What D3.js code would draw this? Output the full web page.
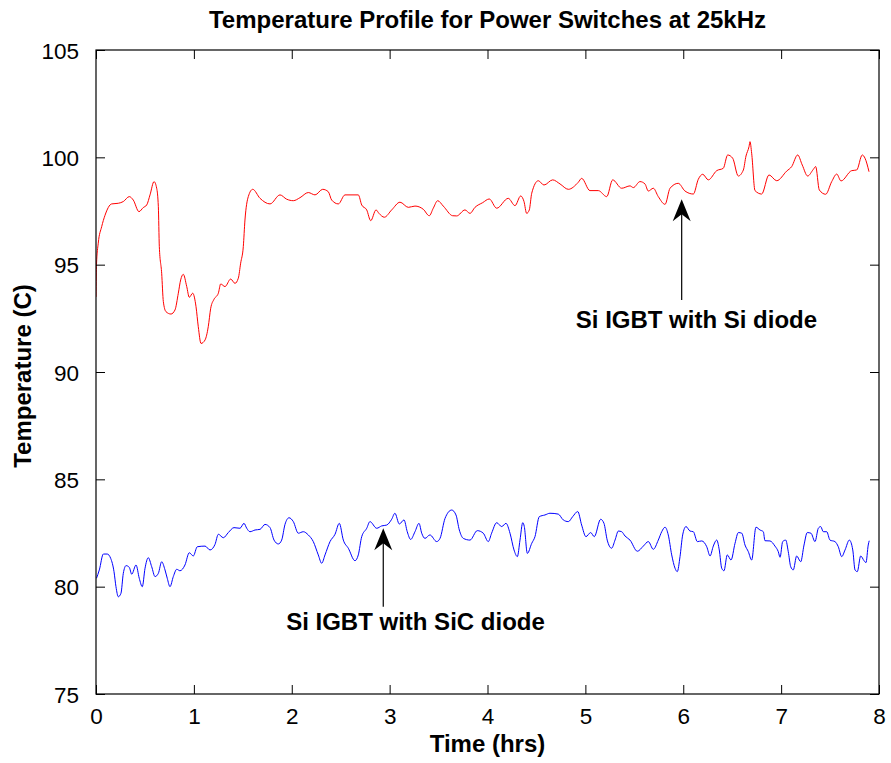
<!DOCTYPE html>
<html>
<head>
<meta charset="utf-8">
<script src="https://cdn.jsdelivr.net/npm/d3@7"></script>
<style>
  html, body { margin: 0; padding: 0; background: #fff; }
  svg { display: block; }
  text { font-family: "Liberation Sans", Arial, Helvetica, sans-serif; fill: #000; }
</style>
</head>
<body>
<svg id="chart" width="891" height="763"></svg>
<script>
// ---------------- DATA ----------------
const chartTitle = "Temperature Profile for Power Switches at 25kHz";
const xLabel = "Time (hrs)";
const yLabel = "Temperature (C)";
const xTicks = [0, 1, 2, 3, 4, 5, 6, 7, 8];
const yTicks = [75, 80, 85, 90, 95, 100, 105];

// Si IGBT with Si diode (red)
const siTime = [0.000,0.005,0.023,0.058,0.092,0.160,0.228,0.279,0.340,0.381,0.439,0.483,0.518,0.552,0.593,0.620,0.637,0.647,0.671,0.688,0.715,0.766,0.807,0.841,0.865,0.892,0.927,0.953,0.988,1.022,1.045,1.073,1.114,1.147,1.172,1.206,1.250,1.274,1.318,1.376,1.420,1.454,1.478,1.505,1.522,1.556,1.601,1.676,1.778,1.880,1.948,2.016,2.084,2.169,2.238,2.316,2.373,2.408,2.476,2.544,2.680,2.715,2.766,2.807,2.861,2.891,2.946,3.021,3.106,3.191,3.259,3.344,3.405,3.446,3.491,3.548,3.644,3.685,3.770,3.821,3.872,3.951,4.018,4.094,4.212,4.281,4.339,4.373,4.400,4.427,4.452,4.519,4.577,4.666,4.741,4.826,4.928,4.962,5.047,5.132,5.218,5.279,5.371,5.456,5.490,5.558,5.609,5.643,5.694,5.745,5.814,5.865,5.949,6.018,6.103,6.154,6.199,6.256,6.342,6.409,6.454,6.505,6.562,6.614,6.641,6.672,6.682,6.699,6.733,6.801,6.876,6.955,7.057,7.108,7.169,7.216,7.271,7.329,7.353,7.390,7.455,7.517,7.568,7.612,7.721,7.772,7.829,7.857,7.898];
const siTemp = [93.5,95.0,96.0,96.77,97.3,97.83,97.86,97.94,98.17,98.01,97.47,97.66,97.78,98.25,98.87,98.56,97.70,95.84,94.6,93.28,92.81,92.70,92.89,93.67,94.29,94.55,93.98,93.48,93.67,93.04,92.11,91.33,91.49,92.11,92.97,93.39,93.67,94.10,93.98,94.33,94.13,94.37,95.07,95.84,97.08,98.17,98.51,98.09,97.83,98.25,98.05,97.98,98.12,98.36,98.25,98.51,98.40,98.01,97.83,98.25,98.25,97.78,97.55,97.05,97.55,97.39,97.21,97.55,97.91,97.67,97.73,97.58,97.28,97.63,97.98,97.73,97.28,97.27,97.55,97.39,97.67,97.89,98.06,97.63,98.09,97.75,98.20,97.94,97.39,97.55,98.33,98.91,98.71,98.95,98.76,98.51,98.84,99.02,98.45,98.45,98.17,98.95,98.56,98.67,98.59,98.87,98.76,98.43,98.56,98.17,97.81,98.56,98.79,98.43,98.29,98.98,99.21,98.95,99.38,99.49,100.11,99.96,99.13,99.41,100.06,100.50,100.73,100.19,98.45,98.29,99.18,98.91,99.36,99.57,100.11,99.64,99.13,99.44,99.57,98.48,98.28,98.87,99.22,98.90,99.38,99.41,100.11,99.96,99.33];

// Si IGBT with SiC diode (blue)
const sicTime = [0.005,0.034,0.075,0.115,0.150,0.184,0.204,0.228,0.255,0.279,0.307,0.340,0.365,0.409,0.442,0.473,0.501,0.534,0.569,0.603,0.637,0.671,0.705,0.728,0.756,0.790,0.825,0.858,0.909,0.953,0.994,1.035,1.114,1.165,1.216,1.250,1.301,1.352,1.410,1.471,1.512,1.540,1.573,1.625,1.676,1.727,1.778,1.819,1.863,1.897,1.931,1.972,2.016,2.067,2.118,2.169,2.220,2.271,2.306,2.340,2.391,2.442,2.486,2.527,2.578,2.646,2.680,2.715,2.766,2.799,2.868,2.919,2.970,3.021,3.054,3.099,3.147,3.180,3.215,3.259,3.300,3.328,3.361,3.412,3.481,3.515,3.566,3.634,3.678,3.712,3.753,3.821,3.896,3.957,4.008,4.042,4.094,4.145,4.189,4.230,4.271,4.305,4.332,4.360,4.376,4.407,4.452,4.485,4.529,4.587,4.638,4.723,4.774,4.826,4.870,4.922,4.962,5.006,5.054,5.091,5.156,5.190,5.223,5.268,5.303,5.337,5.371,5.405,5.456,5.531,5.592,5.643,5.694,5.745,5.780,5.814,5.847,5.882,5.916,5.939,5.967,5.994,6.028,6.069,6.103,6.144,6.189,6.240,6.274,6.307,6.342,6.368,6.393,6.416,6.450,6.488,6.529,6.563,6.598,6.631,6.665,6.699,6.743,6.784,6.818,6.835,6.886,6.937,6.971,6.989,7.016,7.047,7.073,7.098,7.124,7.159,7.200,7.234,7.267,7.305,7.346,7.380,7.404,7.431,7.466,7.499,7.550,7.584,7.619,7.653,7.697,7.732,7.755,7.778,7.813,7.847,7.867,7.890,7.900];
const sicTemp = [80.39,80.78,81.52,81.52,81.32,80.70,80.00,79.53,79.69,80.62,80.98,80.90,80.58,81.01,80.39,80.00,80.86,81.35,80.93,80.47,80.62,81.16,80.78,80.39,80.00,80.47,80.81,80.74,81.01,81.58,81.43,81.86,81.89,81.71,81.97,82.44,82.28,82.52,82.75,82.72,82.95,82.72,82.56,82.64,82.67,82.90,82.75,82.17,81.99,82.17,82.90,83.21,83.03,82.49,82.56,82.41,82.10,81.48,81.09,81.48,82.10,82.44,82.95,82.17,81.79,81.21,81.48,82.33,82.72,83.03,82.72,82.83,82.87,83.14,83.42,82.92,83.11,82.56,82.20,82.56,82.95,82.49,82.25,82.41,82.10,82.25,83.18,83.57,83.34,82.64,82.25,82.17,82.61,82.49,82.10,82.49,82.98,82.80,82.95,82.49,81.71,81.40,82.17,82.98,82.80,81.55,82.02,82.33,83.26,83.34,83.42,83.38,83.11,83.03,83.26,83.50,82.87,82.33,82.52,82.33,83.14,82.95,82.17,81.79,82.17,82.59,82.56,82.36,82.17,81.65,81.89,82.10,81.74,82.17,82.56,82.77,82.41,81.48,80.86,80.70,81.40,82.41,82.80,82.59,82.56,82.10,82.13,81.86,81.43,81.89,82.17,81.71,80.86,80.74,81.48,81.24,82.02,82.52,82.49,81.94,81.63,81.24,82.77,82.64,82.56,82.14,82.13,81.89,81.63,81.37,82.10,82.17,81.63,80.93,80.78,81.43,81.16,81.94,82.52,82.49,82.10,82.72,82.80,82.56,82.56,82.17,82.10,81.86,81.40,81.71,82.17,81.71,80.78,80.70,81.43,81.21,81.12,81.94,82.14];

// annotations: label, arrow tip (hrs, C), arrow tail (hrs, C), text anchor (hrs, C)
const annoLabels = ["Si IGBT with Si diode", "Si IGBT with SiC diode"];
const annoTip = [[5.984, 98.05], [2.935, 82.72]];
const annoTail = [[5.984, 93.35], [2.935, 79.07]];
const annoText = [[6.135, 92.05], [3.264, 77.98]];

// ---------------- CHART ----------------
const svg = d3.select("#chart");
const W = 891, H = 763;
const m = { left: 96, right: 12, top: 50, bottom: 69 };
const x = d3.scaleLinear().domain([0, 8]).range([m.left, W - m.right]);
const y = d3.scaleLinear().domain([75, 105]).range([H - m.bottom, m.top]);
const x0 = x.range()[0], x1 = x.range()[1], y0 = y.range()[0], y1 = y.range()[1];

svg.append("rect").attr("width", W).attr("height", H).attr("fill", "#fff");

svg.append("clipPath").attr("id", "clip").append("rect")
  .attr("x", x0).attr("y", y1).attr("width", x1 - x0).attr("height", y0 - y1);

const line = d3.line().curve(d3.curveMonotoneX).x(d => x(d[0])).y(d => y(d[1]));
const siData = siTime.map((t, i) => [t, siTemp[i]]);
const sicData = sicTime.map((t, i) => [t, sicTemp[i]]);

svg.append("path").datum(siData).attr("d", line).attr("clip-path", "url(#clip)")
  .attr("fill", "none").attr("stroke", "#ff0000").attr("stroke-width", 1).attr("stroke-linejoin", "round");
svg.append("path").datum(sicData).attr("d", line).attr("clip-path", "url(#clip)")
  .attr("fill", "none").attr("stroke", "#0000ff").attr("stroke-width", 1).attr("stroke-linejoin", "round");

// axes with inward ticks on all sides
const tickLen = 9;
const fmt = d3.format("d");
const gB = svg.append("g").attr("transform", `translate(0,${y0})`)
  .call(d3.axisBottom(x).tickValues(xTicks).tickFormat(fmt).tickSizeInner(-tickLen).tickSizeOuter(0).tickPadding(14));
const gT = svg.append("g").attr("transform", `translate(0,${y1})`)
  .call(d3.axisTop(x).tickValues(xTicks).tickFormat("").tickSizeInner(-tickLen).tickSizeOuter(0));
const gL = svg.append("g").attr("transform", `translate(${x0},0)`)
  .call(d3.axisLeft(y).tickValues(yTicks).tickFormat(fmt).tickSizeInner(-tickLen).tickSizeOuter(0).tickPadding(17));
const gR = svg.append("g").attr("transform", `translate(${x1},0)`)
  .call(d3.axisRight(y).tickValues(yTicks).tickFormat("").tickSizeInner(-tickLen).tickSizeOuter(0));

[gB, gT, gL, gR].forEach(g => {
  g.selectAll(".domain").remove();
  g.selectAll(".tick line").attr("stroke", "#000").attr("stroke-width", 1);
  g.selectAll("text").attr("font-family", '"Liberation Sans", Arial, Helvetica, sans-serif')
    .attr("font-size", 22.5).attr("fill", "#000");
});
gB.selectAll("text").attr("dy", "0.71em");
gL.selectAll("text").attr("dy", "0.36em");

svg.append("rect").attr("x", x0).attr("y", y1).attr("width", x1 - x0).attr("height", y0 - y1)
  .attr("fill", "none").attr("stroke", "#000").attr("stroke-width", 1.2);

// title and labels
svg.append("text").attr("x", (x0 + x1) / 2).attr("y", 28).attr("text-anchor", "middle")
  .attr("font-size", 24).attr("font-weight", "bold").text(chartTitle);
svg.append("text").attr("x", (x0 + x1) / 2).attr("y", 752).attr("text-anchor", "middle")
  .attr("font-size", 24).attr("font-weight", "bold").text(xLabel);
svg.append("text").attr("transform", `translate(31,${(y0 + y1) / 2 + 4}) rotate(-90)`).attr("text-anchor", "middle")
  .attr("font-size", 24).attr("font-weight", "bold").text(yLabel);

// annotations
annoLabels.forEach((lab, i) => {
  const tx = x(annoTip[i][0]), ty = y(annoTip[i][1]);
  const bx = x(annoTail[i][0]), by = y(annoTail[i][1]);
  svg.append("line").attr("x1", bx).attr("y1", by).attr("x2", tx).attr("y2", ty + 12)
    .attr("stroke", "#000").attr("stroke-width", 1.2);
  svg.append("path")
    .attr("d", `M${tx},${ty} L${tx - 9},${ty + 22} L${tx},${ty + 15} L${tx + 9},${ty + 22} Z`)
    .attr("fill", "#000");
  svg.append("text").attr("x", x(annoText[i][0])).attr("y", y(annoText[i][1]))
    .attr("text-anchor", "middle").attr("font-size", 24).attr("font-weight", "bold").text(lab);
});
</script>
</body>
</html>
